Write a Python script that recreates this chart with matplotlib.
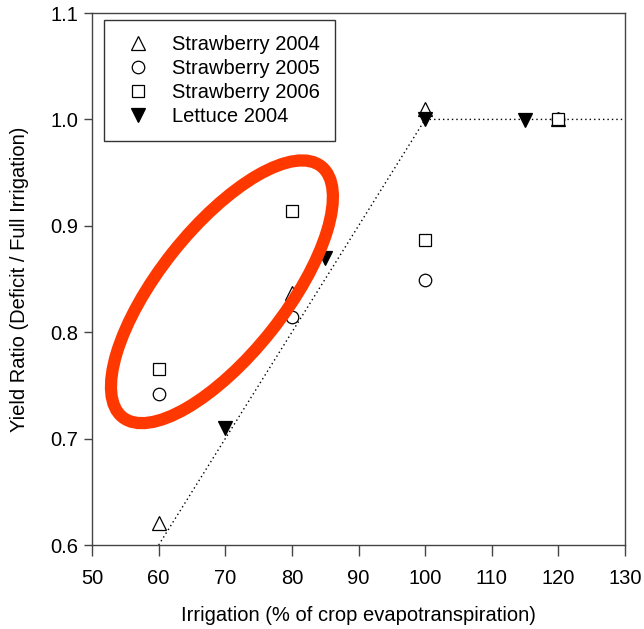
import matplotlib
matplotlib.use("Agg")
import matplotlib.pyplot as plt
from matplotlib.patches import Ellipse
from matplotlib.transforms import ScaledTranslation
from matplotlib.lines import Line2D

plt.rcParams['font.family'] = ['Liberation Sans', 'DejaVu Sans']

# Yield ratio (deficit / full irrigation) by irrigation level
straw04_x = [60, 80, 100, 120]
straw04_y = [0.621, 0.837, 1.010, 1.000]
straw05_x = [60, 80, 100, 120]
straw05_y = [0.742, 0.814, 0.849, 1.000]
straw06_x = [60, 80, 100, 120]
straw06_y = [0.765, 0.914, 0.887, 1.000]
lettuce04_x = [70, 85, 100, 115]
lettuce04_y = [0.710, 0.870, 1.000, 0.999]

# Piecewise response line
resp_x = [60, 100, 130]
resp_y = [0.60, 1.00, 1.00]

# Highlighted region centre (data coordinates)
hl_center = (69.5, 0.838)

xticks = [50, 60, 70, 80, 90, 100, 110, 120, 130]
yticks = [0.6, 0.7, 0.8, 0.9, 1.0, 1.1]

FS = 14.5

fig = plt.figure(figsize=(6.44, 6.29), dpi=100)
ax = fig.add_axes([0.1429, 0.1335, 0.8276, 0.8458])

ax.plot(resp_x, resp_y, color='black', linestyle=(0, (1, 2.2)), lw=1.0, zorder=1)

ms = 9.5
ax.plot(straw04_x, straw04_y, linestyle='none', marker='^', ms=ms, mfc='white', mec='black', mew=0.9, zorder=3)
ax.plot(straw05_x, straw05_y, linestyle='none', marker='o', ms=ms - 0.5, mfc='white', mec='black', mew=0.9, zorder=3)
ax.plot(straw06_x, straw06_y, linestyle='none', marker='s', ms=ms - 1, mfc='white', mec='black', mew=0.9, zorder=3)
ax.plot(lettuce04_x, lettuce04_y, linestyle='none', marker='v', ms=ms, mfc='black', mec='black', mew=0.9, zorder=3)

# Red ellipse drawn in inches around a data-space centre
ell_trans = fig.dpi_scale_trans + ScaledTranslation(hl_center[0], hl_center[1], ax.transData)
ell = Ellipse((0, 0), width=2 * 1.60, height=2 * 0.63, angle=51.6,
              transform=ell_trans, fill=False, edgecolor='#ff3800', lw=8.8, zorder=4)
ax.add_patch(ell)

ax.set_xlim(50, 130)
ax.set_ylim(0.6, 1.1)
ax.set_xticks(xticks)
ax.set_yticks(yticks)
ax.set_yticklabels([f"{v:.1f}" for v in yticks])
ax.tick_params(axis='both', direction='out', labelsize=FS, colors='black')
ax.tick_params(axis='x', length=8, width=1, pad=9, color='#444444')
ax.tick_params(axis='y', length=6, width=1, pad=4, color='#444444')
for s in ax.spines.values():
    s.set_color('#444444')
    s.set_linewidth(1.0)

ax.set_xlabel('Irrigation (% of crop evapotranspiration)', fontsize=FS, labelpad=13)
ax.set_ylabel('Yield Ratio (Deficit / Full Irrigation)', fontsize=FS, labelpad=15)

handles = [
    Line2D([], [], linestyle='none', marker='^', ms=ms, mfc='white', mec='black', mew=0.9),
    Line2D([], [], linestyle='none', marker='o', ms=ms - 0.5, mfc='white', mec='black', mew=0.9),
    Line2D([], [], linestyle='none', marker='s', ms=ms - 1, mfc='white', mec='black', mew=0.9),
    Line2D([], [], linestyle='none', marker='v', ms=ms, mfc='black', mec='black', mew=0.9),
]
labels = ['Strawberry 2004', 'Strawberry 2005', 'Strawberry 2006', 'Lettuce 2004']
leg = ax.legend(handles, labels, loc='upper left', bbox_to_anchor=(0.0225, 0.987),
                fontsize=FS, frameon=True, fancybox=False, edgecolor='black',
                borderpad=0.75, labelspacing=0.25, handletextpad=0.75, handlelength=1.9,
                borderaxespad=0)
leg.get_frame().set_linewidth(1.0)

fig.savefig('out.png', dpi=100)
